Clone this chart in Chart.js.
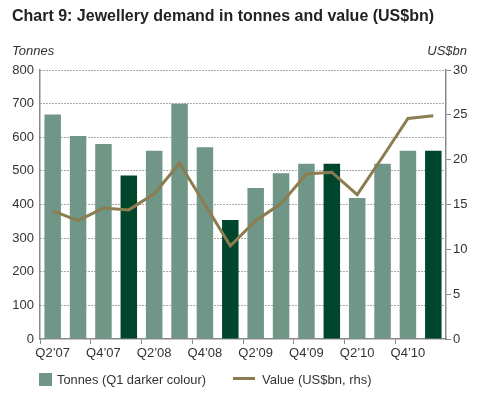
<!DOCTYPE html>
<html><head><meta charset="utf-8">
<script src="https://cdn.jsdelivr.net/npm/chart.js@4"></script>
<style>html,body{margin:0;padding:0;background:#fff}#wrap{width:490px;height:397px;position:relative}</style>
</head><body><div id="wrap"><canvas id="c" width="490" height="397"></canvas></div>
<script>
const quarters = ["Q2\u201907","Q3\u201907","Q4\u201907","Q1\u201908","Q2\u201908","Q3\u201908","Q4\u201908","Q1\u201909","Q2\u201909","Q3\u201909","Q4\u201909","Q1\u201910","Q2\u201910","Q3\u201910","Q4\u201910","Q1\u201911"];
const tonnes = [668, 604, 580, 486, 560, 700, 570, 354, 449, 493, 521, 521, 419, 521, 560, 560];
const valueUSbn = [14.3, 13.2, 14.6, 14.4, 16.2, 19.6, 15.0, 10.4, 13.2, 15.1, 18.4, 18.6, 16.1, 20.3, 24.6, 24.9];
const tonnesTicks = [0,100,200,300,400,500,600,700,800];
const valueTicks = [0,5,10,15,20,25,30];

const LIGHT = '#6f9686', DARK = '#00462c', LINE = '#8c7d50', AXIS = '#8a8a8a', TXT = '#333333';
const FONT = "'Liberation Sans', Arial, sans-serif";

const decor = {
  id: 'decor',
  afterDraw(chart) {
    const ctx = chart.ctx;
    ctx.save();
    ctx.fillStyle = '#222';
    ctx.textBaseline = 'alphabetic';
    ctx.textAlign = 'left';
    ctx.font = "bold 16px " + FONT;
    ctx.fillText('Chart 9: Jewellery demand in tonnes and value (US$bn)', 12, 21, 422);
    ctx.fillStyle = TXT;
    ctx.font = "italic 13px " + FONT;
    ctx.fillText('Tonnes', 12, 55);
    ctx.textAlign = 'right';
    ctx.fillText('US$bn', 467, 55);
    // legend
    ctx.textAlign = 'left';
    ctx.textBaseline = 'middle';
    ctx.fillStyle = LIGHT;
    ctx.fillRect(39, 373, 13, 13);
    ctx.fillStyle = TXT;
    ctx.font = "13px " + FONT;
    ctx.fillText('Tonnes (Q1 darker colour)', 57, 380, 149);
    ctx.strokeStyle = LINE;
    ctx.lineWidth = 3;
    ctx.beginPath(); ctx.moveTo(233, 378.5); ctx.lineTo(255, 378.5); ctx.stroke();
    ctx.fillStyle = TXT;
    ctx.fillText('Value (US$bn, rhs)', 262, 380, 110);
    ctx.restore();
  }
};

new Chart(document.getElementById('c'), {
  type: 'bar',
  data: {
    labels: quarters,
    datasets: [
      {
        type: 'line', label: 'Value (US$bn, rhs)', data: valueUSbn, yAxisID: 'y1',
        borderColor: LINE, borderWidth: 3, pointRadius: 0, tension: 0, fill: false, order: 0
      },
      {
        type: 'bar', label: 'Tonnes (Q1 darker colour)', data: tonnes, yAxisID: 'y',
        backgroundColor: quarters.map(q => q.startsWith('Q1') ? DARK : LIGHT),
        borderWidth: 0, barPercentage: 0.65, categoryPercentage: 1.0, order: 1
      }
    ]
  },
  options: {
    responsive: false, animation: false, devicePixelRatio: 1,
    layout: { padding: { top: 70, left: 0, right: 0, bottom: 0 } },
    plugins: { legend: { display: false }, title: { display: false }, tooltip: { enabled: false } },
    scales: {
      x: {
        offset: true,
        grid: { offset: true, drawOnChartArea: false, drawTicks: true, tickLength: 5,
                color: c => (c.index % 2 === 0 ? AXIS : 'rgba(0,0,0,0)'), lineWidth: 1 },
        border: { color: AXIS, width: 1.5 },
        ticks: { autoSkip: false, maxRotation: 0, minRotation: 0, padding: 2, color: TXT,
                 font: { family: FONT, size: 13 },
                 callback: (v, i) => (i % 2 === 0 ? quarters[i] : '') },
        afterFit: s => { s.height = 58; }
      },
      y: {
        position: 'left', min: 0, max: 800,
        afterBuildTicks: s => { s.ticks = tonnesTicks.map(v => ({ value: v })); },
        ticks: { padding: 6, color: TXT, font: { family: FONT, size: 13 } },
        grid: { drawTicks: false, color: c => (c.tick && c.tick.value === 0 ? 'rgba(0,0,0,0)' : '#555'), lineWidth: 1 },
        border: { color: AXIS, width: 1.5, dash: [1, 2] },
        afterFit: s => { s.width = 40; }
      },
      y1: {
        position: 'right', min: 0, max: 30,
        afterBuildTicks: s => { s.ticks = valueTicks.map(v => ({ value: v })); },
        ticks: { padding: 2, color: TXT, font: { family: FONT, size: 13 } },
        grid: { drawOnChartArea: false, drawTicks: true, tickLength: 5, color: AXIS, lineWidth: 1 },
        border: { color: AXIS, width: 1.5 },
        afterFit: s => { s.width = 44; }
      }
    }
  },
  plugins: [decor]
});
</script>
</body></html>
